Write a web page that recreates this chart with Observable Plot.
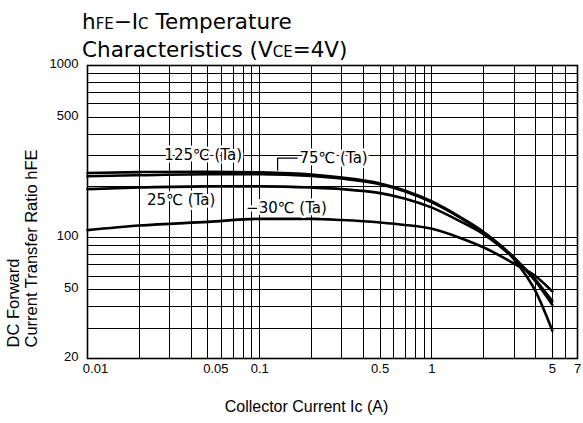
<!DOCTYPE html>
<html><head><meta charset="utf-8">
<script src="https://cdn.jsdelivr.net/npm/d3@7"></script>
<script src="https://cdn.jsdelivr.net/npm/@observablehq/plot@0.6"></script>
<style>
body{margin:0;background:#fff;}
#wrap{position:relative;width:583px;height:423px;overflow:hidden;}
#title{position:absolute;left:82px;top:9px;font-family:"DejaVu Sans",sans-serif;font-size:21.5px;line-height:25px;color:#000;white-space:nowrap;}
.sm{font-size:15px;}
#chart{position:absolute;left:0;top:0;}
</style></head><body>
<div id="wrap"><div id="chart"></div><div id="title">h<span class="sm">FE</span>−I<span class="sm">C</span> Temperature<br>Characteristics (V<span class="sm">CE</span>=4V)</div></div>
<script>
// Collector current (A)
const currents = [0.01, 0.02, 0.05, 0.1, 0.2, 0.3, 0.5, 0.7, 1, 1.5, 2, 3, 4, 5];
// hFE series per ambient temperature
const hfe125 = [238, 241, 242, 240, 233, 224, 207, 188, 163, 130, 108, 75, 49, 29];
const hfe75  = [228, 231, 234, 234, 229, 221, 205, 186, 161, 129, 107, 77, 56, 41];
const hfe25  = [192, 196, 199, 199, 196, 192, 182, 169, 150, 123, 105, 76, 57, 43];
const hfeM30 = [111, 118, 124, 129, 129, 127, 123, 119, 113, 99, 88, 71, 60, 49];
const seriesNames = ["125", "75", "25", "-30"];

// axis ticks and labels
const xTickValues = [0.01, 0.05, 0.1, 0.5, 1, 5, 7];
const xTickLabels = ["0.01", "0.05", "0.1", "0.5", "1", "5", "7"];
const yTickValues = [20, 50, 100, 500, 1000];
const yTickLabels = ["20", "50", "100", "500", "1000"];
const xGrid = [0.01,0.02,0.03,0.04,0.05,0.06,0.07,0.08,0.09,0.1,0.2,0.3,0.4,0.5,0.6,0.7,0.8,0.9,1,2,3,4,5,6,7];
const yGrid = [20,30,40,50,60,70,80,90,100,200,300,400,500,600,700,800,900,1000];

// curve annotations (anchored in data units)
const annText = ["125℃ (Ta)", "75℃ (Ta)", "25℃ (Ta)", "−30℃ (Ta)"];
const annIc   = [0.047, 0.17, 0.035, 0.143];
const annHfe  = [300, 290, 166, 149];
const leaderIc  = [0.127, 0.127, 0.165];
const leaderHfe = [247, 290, 290];

const allSeries = [hfe125, hfe75, hfe25, hfeM30];
const rows = allSeries.flatMap((vals, s) => currents.map((c, i) => ({ic: c, hfe: vals[i], t: seriesNames[s]})));
const anns = annText.map((t, i) => ({text: t, ic: annIc[i], hfe: annHfe[i]}));
const annsMid = anns.filter((d, i) => i !== 1);
const annsStart = anns.filter((d, i) => i === 1);
const leader = leaderIc.map((c, i) => ({ic: c, hfe: leaderHfe[i]}));
const xTicks = xTickValues.map((v, i) => ({v, s: xTickLabels[i]}));
const yTicks = yTickValues.map((v, i) => ({v, s: yTickLabels[i]}));
const TF = "Liberation Sans, Arial, sans-serif";

const chart = Plot.plot({
  width: 583, height: 423,
  marginTop: 65, marginBottom: 65, marginLeft: 87, marginRight: 6,
  style: {fontFamily: "DejaVu Sans, sans-serif", fontSize: "13px", color: "#000", background: "#fff"},
  x: {type: "log", domain: [0.01, 7], axis: null},
  y: {type: "log", domain: [20, 1000], axis: null},
  marks: [
    Plot.ruleX(xGrid, {x: d => d, stroke: "#000", strokeWidth: 1, shapeRendering: "crispEdges"}),
    Plot.ruleY(yGrid, {y: d => d, stroke: "#000", strokeWidth: 1, shapeRendering: "crispEdges"}),
    Plot.frame({stroke: "#000", strokeWidth: 1.6}),
    Plot.text(xTicks.slice(0, 2), {x: "v", frameAnchor: "bottom", dy: 14, dx: 8, text: "s", fontSize: 13, fontFamily: TF, fill: "#000"}),
    Plot.text(xTicks.slice(2), {x: "v", frameAnchor: "bottom", dy: 14, text: "s", fontSize: 13, fontFamily: TF, fill: "#000"}),
    Plot.text(yTicks, {y: "v", frameAnchor: "left", dx: -9, dy: -2, textAnchor: "end", text: "s", fontSize: 13, fontFamily: TF, fill: "#000"}),
    Plot.line(rows, {x: "ic", y: "hfe", z: "t", curve: "monotone-x", stroke: "#000", strokeWidth: 2.6}),
    Plot.text(annsMid, {x: "ic", y: "hfe", text: "text", fill: "#000", stroke: "#fff", strokeWidth: 5, fontSize: 15}),
    Plot.text(annsStart, {x: "ic", y: "hfe", text: "text", textAnchor: "start", fill: "#000", stroke: "#fff", strokeWidth: 5, fontSize: 15}),
    Plot.line(leader, {x: "ic", y: "hfe", stroke: "#000", strokeWidth: 1.2}),
    Plot.text(["Collector Current Ic (A)"], {frameAnchor: "bottom", dx: -26, dy: 53, text: d => d, fontSize: 16, fontFamily: TF, fill: "#000"}),
    Plot.text(["DC Forward"], {frameAnchor: "bottom-left", dx: -69, dy: -11, rotate: -90, textAnchor: "start", text: d => d, fontSize: 16.5, fontFamily: TF, fill: "#000"}),
    Plot.text(["Current Transfer Ratio hFE"], {frameAnchor: "bottom-left", dx: -51, dy: -11, rotate: -90, textAnchor: "start", text: d => d, fontSize: 16.5, fontFamily: TF, fill: "#000"})
  ]
});
document.getElementById("chart").appendChild(chart);
</script>
</body></html>
